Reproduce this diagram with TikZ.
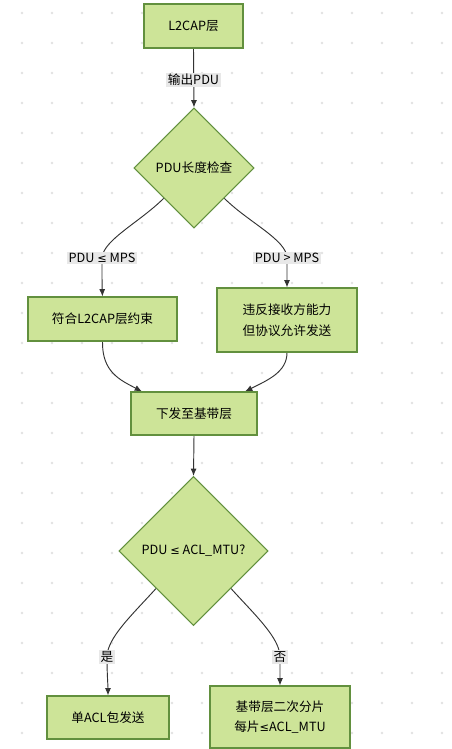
\documentclass[tikz,border=0pt]{standalone}
\usepackage{fontspec}
\setmainfont{Noto Sans CJK SC}
\newfontfamily\symfont{DejaVu Sans}
\newcommand{\myle}{{\symfont\fontsize{8.5pt}{12pt}\selectfont ≤}}
\usetikzlibrary{shapes.geometric,arrows.meta}
\definecolor{nodefill}{HTML}{CDE498}
\definecolor{nodeline}{HTML}{62903E}
\definecolor{edgecol}{HTML}{333333}
\definecolor{labfill}{HTML}{E8E8E8}
\definecolor{dotcol}{HTML}{E2E2E2}
\pgfdeclarelayer{bglayer}
\pgfdeclarelayer{edgelayer}
\pgfsetlayers{bglayer,edgelayer,main}
\tikzset{
  box/.style 2 args={draw=nodeline, fill=nodefill, line width=0.8pt, inner sep=0pt,
    minimum width=#1*0.75pt, minimum height=#2*0.75pt, align=center,
    font=\fontsize{9.5pt}{15.5pt}\selectfont},
  dec/.style={diamond, aspect=1, draw=nodeline, fill=nodefill, line width=0.8pt, inner sep=0pt,
    minimum width=#1*0.75pt, minimum height=#1*0.75pt,
    font=\fontsize{9.5pt}{13pt}\selectfont},
  lab/.style={fill=labfill, inner sep=1.2pt, font=\fontsize{9.5pt}{12pt}\selectfont},
  edge/.style={draw=edgecol, line width=0.7pt, -{Latex[length=5.5pt,width=4.5pt]}}
}
\begin{document}
\begin{tikzpicture}[x=0.75pt,y=-0.75pt]
\useasboundingbox (0,0) rectangle (451,749);
\begin{pgfonlayer}{bglayer}
\fill[white] (0,0) rectangle (451,749);
\foreach \i in {0,...,14} {
  \foreach \j in {0,...,24} {
    \fill[dotcol] (22+30*\i,13+30*\j) circle (1.3);
  }
}
\end{pgfonlayer}
% nodes
\node[box={99}{44}] (top) at (193.5,26) {L2CAP层};
\node[dec=120] (d1) at (194,168) {PDU长度检查};
\node[box={149}{44}] (b1) at (102.5,319) {符合L2CAP层约束};
\node[box={140}{64}] (b2) at (287,320) {违反接收方能力\\但协议允许发送};
\node[box={126}{43}] (b3) at (194,413.5) {下发至基带层};
\node[dec=149] (d2) at (193.5,551) {PDU \myle{} ACL\_MTU?};
\node[box={122}{43}] (b4) at (108,717.5) {单ACL包发送};
\node[box={140}{62}] (b5) at (280,717) {基带层二次分片\\每片\myle ACL\_MTU};
% edge labels
\node[lab] (l0) at (193.5,80) {输出PDU};
\node[lab] (l1) at (102,258) {PDU \myle{} MPS};
\node[lab] (l2) at (287,258) {PDU > MPS};
\node[lab] (l3) at (107,657) {是};
\node[lab] (l4) at (280,657) {否};
% edges
\begin{pgfonlayer}{edgelayer}
\draw[edge] (top.south) -- (d1.north);
\draw[edge] (d1.south west) .. controls (140,222) and (103,240) .. (l1.center)
   .. controls (102,275) and (102,285) .. (b1.north);
\draw[edge] (d1.south east) .. controls (248,222) and (287,240) .. (l2.center)
   .. controls (287,272) and (287,278) .. (b2.north);
\draw[edge] (b1.south) .. controls (102,372) and (120,380) .. ([xshift=-52*0.75pt]b3.north);
\draw[edge] (b2.south) .. controls (287,372) and (268,380) .. ([xshift=51*0.75pt]b3.north);
\draw[edge] (b3.south) -- (d2.north);
\draw[edge] (d2.south west) .. controls (132,615) and (107,638) .. (l3.center)
   .. controls (107,675) and (108,685) .. (b4.north);
\draw[edge] (d2.south east) .. controls (255,615) and (280,638) .. (l4.center)
   .. controls (280,670) and (280,678) .. (b5.north);
\end{pgfonlayer}
\end{tikzpicture}
\end{document}
